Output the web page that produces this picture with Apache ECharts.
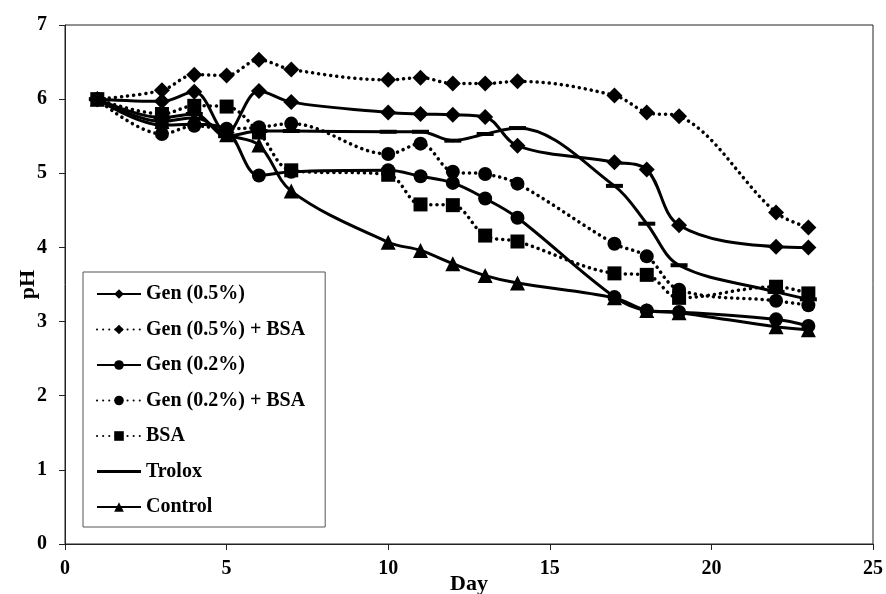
<!DOCTYPE html>
<html>
<head>
<meta charset="utf-8">
<script src="https://cdn.jsdelivr.net/npm/echarts@6/dist/echarts.min.js"></script>
<style>html,body{margin:0;padding:0;background:#fff}#c{width:886px;height:594px}</style>
</head>
<body>
<div id="c"></div>
<script>
var days = [1,3,4,5,6,7,10,11,12,13,14,17,18,19,22,23];
var gen05 = [6.0,5.97,6.1,5.55,6.11,5.96,5.82,5.80,5.79,5.76,5.37,5.15,5.05,4.30,4.01,4.00];
var gen05bsa = [6.0,6.12,6.33,6.32,6.53,6.40,6.26,6.29,6.21,6.21,6.24,6.05,5.82,5.77,4.47,4.27];
var gen02 = [6.0,5.65,5.66,5.58,4.97,5.02,5.04,4.96,4.87,4.66,4.40,3.33,3.15,3.13,3.03,2.94];
var gen02bsa = [6.0,5.53,5.64,5.60,5.62,5.67,5.26,5.40,5.02,4.99,4.86,4.05,3.88,3.43,3.28,3.22];
var bsa = [6.0,5.80,5.91,5.90,5.55,5.04,4.98,4.58,4.57,4.16,4.08,3.65,3.63,3.32,3.47,3.38];
var trolox = [6.0,5.75,5.80,5.50,5.57,5.57,5.56,5.56,5.44,5.53,5.61,4.83,4.32,3.76,3.40,3.30];
var control = [6.0,5.70,5.75,5.52,5.38,4.76,4.07,3.96,3.78,3.62,3.52,3.32,3.15,3.12,2.93,2.89];
var names = ['Gen (0.5%)','Gen (0.5%) + BSA','Gen (0.2%)','Gen (0.2%) + BSA','BSA','Trolox','Control'];

function pairs(v){ return days.map(function(d,i){ return [d, v[i]]; }); }
var FONT = 'Liberation Serif';
var dotted = {color:'#000', width:3.5, type:[0.1,6], cap:'round'};
var solid = {color:'#000', width:3};
function mk(name, vals, symbol, size, line){
  return {name:name, type:'line', data:pairs(vals), smooth:0.35, symbol:symbol, symbolSize:size,
    itemStyle:{color:'#000'}, lineStyle:line, emphasis:{disabled:true}, z: 2};
}
var legendData = names.map(function(n){
  return n === 'Trolox' ? {name:n, icon:'path://M0,0H44V3H0Z'} : n;
});
var chart = echarts.init(document.getElementById('c'));
chart.setOption({
  animation:false,
  backgroundColor:'#fff',
  grid:{left:65, right:13, top:25, bottom:50, show:true, borderColor:'#222', borderWidth:1,
    containLabel:false, outerBoundsMode:'none'},
  xAxis:{type:'value', min:0, max:25, interval:5, name:'Day', nameLocation:'middle', nameGap:29,
    nameMoveOverlap:false,
    nameTextStyle:{fontFamily:FONT, fontWeight:'bold', fontSize:22, color:'#000'},
    axisLine:{show:true, onZero:false, lineStyle:{color:'#222', width:1}},
    axisTick:{show:true, length:6, lineStyle:{color:'#222'}},
    axisLabel:{fontFamily:FONT, fontWeight:'bold', fontSize:20, color:'#000', margin:15},
    splitLine:{show:false}},
  yAxis:{type:'value', min:0, max:7, interval:1, name:'pH', nameLocation:'middle', nameGap:26,
    nameMoveOverlap:false,
    nameTextStyle:{fontFamily:FONT, fontWeight:'bold', fontSize:22, color:'#000'},
    axisLine:{show:true, onZero:false, lineStyle:{color:'#222', width:1}},
    axisTick:{show:true, length:6, lineStyle:{color:'#222'}},
    axisLabel:{fontFamily:FONT, fontWeight:'bold', fontSize:20, color:'#000', margin:18},
    splitLine:{show:false}},
  legend:{orient:'vertical', left:83, top:272, data:legendData, itemWidth:44, itemHeight:12, itemGap:15.5,
    padding:[12,20,10,13], borderColor:'#555', borderWidth:1, backgroundColor:'#fff',
    textStyle:{fontFamily:FONT, fontWeight:'bold', fontSize:20, color:'#000'}},
  series:[
    mk(names[0], gen05, 'diamond', 16, solid),
    mk(names[1], gen05bsa, 'diamond', 16, dotted),
    mk(names[2], gen02, 'circle', 14, solid),
    mk(names[3], gen02bsa, 'circle', 14, dotted),
    mk(names[4], bsa, 'rect', 14, dotted),
    mk(names[5], trolox, 'rect', [17,4], solid),
    mk(names[6], control, 'triangle', 15, solid)
  ]
});
</script>
</body>
</html>
